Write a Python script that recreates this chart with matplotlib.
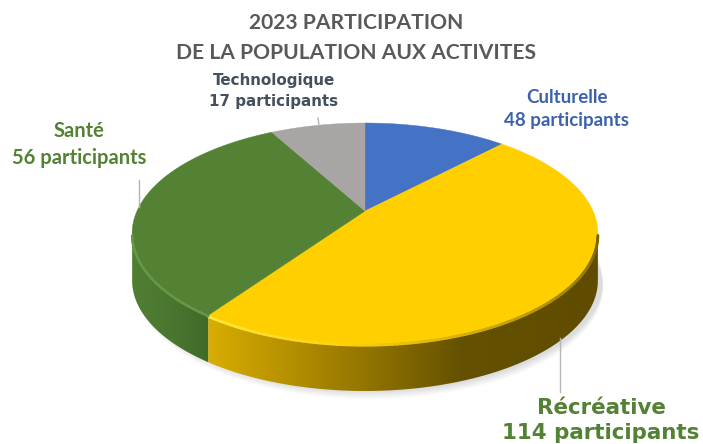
import numpy as np
import matplotlib
matplotlib.use("Agg")
import matplotlib.pyplot as plt
from matplotlib.colors import LinearSegmentedColormap, to_rgb
from matplotlib.collections import LineCollection
from matplotlib.patches import Polygon

# ── Données ──
title_lines = ["2023 PARTICIPATION", "DE LA POPULATION AUX ACTIVITES"]
categories = ["Culturelle", "Récréative", "Santé", "Technologique"]
participants = [48, 114, 56, 17]
# parts réellement dessinées (%), estimées sur l'image : elles ne suivent pas les effectifs
slice_shares = [12.1, 47.6, 32.3, 8.0]

face_colors = ["#4472c4", "#ffcf00", "#548235", "#a9a5a5"]
label_colors = ["#3c62ad", "#548235", "#548235", "#44505c"]

# ── Géométrie en pixels ──
W, H = 703, 444
CX, PY = 365, 211
R, RY, P = 228, 105.9, 0.2036
DEPTH = 47


def project(theta):
    """Angle horaire depuis le haut -> point du disque vu en perspective."""
    u, v = np.sin(theta), np.cos(theta)
    s = 1 / (1 + P * v)
    return CX + R * u * s, PY - RY * v * s


def edge(a, b, n=200):
    x, y = project(np.linspace(a, b, n))
    return np.column_stack([x, y])


fig = plt.figure(figsize=(W / 100, H / 100), dpi=100)
ax = fig.add_axes([0, 0, 1, 1])
ax.set_axis_off()

bounds = np.concatenate([[0], np.cumsum(slice_shares)]) / sum(slice_shares) * 2 * np.pi
full = edge(0, 2 * np.pi, 400)

# ombre douce sous le disque
for k in range(9):
    ax.add_patch(Polygon(full + [5, DEPTH + k], closed=True, fc="#808080",
                         ec="none", alpha=0.03, zorder=1))


def gradient_side(pts, stops, zorder=2):
    """Flanc du disque : dégradé horizontal découpé selon le polygone."""
    poly = np.vstack([pts, (pts + [0, DEPTH])[::-1]])
    x0, x1 = poly[:, 0].min(), poly[:, 0].max()
    y0, y1 = poly[:, 1].min(), poly[:, 1].max()
    cmap = LinearSegmentedColormap.from_list(
        "side", [((x - x0) / (x1 - x0), c) for x, c in stops])
    im = ax.imshow(np.linspace(0, 1, 256).reshape(1, -1), cmap=cmap, aspect="auto",
                   extent=(x0, x1, y1, y0), zorder=zorder)
    patch = Polygon(poly, closed=True, fc="none", ec="none", transform=ax.transData)
    ax.add_patch(patch)
    im.set_clip_path(patch)


# flancs visibles : Récréative et Santé
yellow_edge = edge(bounds[1], bounds[2])
green_edge = edge(bounds[2], bounds[3])
yellow_edge = yellow_edge[yellow_edge[:, 1] > 234]
green_edge = green_edge[green_edge[:, 1] > 234]
gradient_side(green_edge, [(green_edge[:, 0].min(), "#4f7f33"), (170, "#4a7730"),
                           (green_edge[:, 0].max(), "#3f6a28")])
gradient_side(yellow_edge[::-1], [(yellow_edge[:, 0].min(), "#d9ad00"), (300, "#b08c00"),
                                  (400, "#836800"), (460, "#655100"),
                                  (yellow_edge[:, 0].max(), "#5f4c00")])

# faces supérieures
for i, col in enumerate(face_colors):
    wedge = np.vstack([[CX, PY], edge(bounds[i], bounds[i + 1])])
    ax.add_patch(Polygon(wedge, closed=True, fc=col, ec=col, lw=0.3, zorder=3))


def bevel(pts, c_start, c_end, lw=3.0):
    """Liseré du bord, couleur interpolée le long de l'arc."""
    segs = np.stack([pts[:-1], pts[1:]], axis=1)
    t = np.linspace(0, 1, len(segs))[:, None]
    cols = (1 - t) * np.array(to_rgb(c_start)) + t * np.array(to_rgb(c_end))
    ax.add_collection(LineCollection(segs, colors=cols, linewidths=lw, zorder=4,
                                     capstyle="round"))


# les deux moitiés du liseré partagent quelques points pour éviter un trou
ordered = yellow_edge[::-1]
split = int(np.searchsorted(ordered[:, 0], 340))
bevel(ordered[:split + 2] + [0, 1.2], "#ffe83a", "#ffd20a", 2.0)
bevel(ordered[split:] + [0, 1.2], "#ffd20a", "#7a6200", 2.0)
bevel(green_edge + [0, 0.8], "#659846", "#659846", 1.8)

# traits de rappel
leaders = [((318, 118), (319, 125)), ((139, 180), (139, 207)), ((560, 338), (560, 392))]
for (x0, y0), (x1, y1) in leaders:
    ax.plot([x0, x1], [y0, y1], color="#b5b5b5", lw=1, zorder=5)

# ── Textes ──
for line, y in zip(title_lines, [23, 53]):
    ax.text(356, y, line, ha="center", va="center", fontsize=15.1, fontweight="bold",
            family="Lato", color="#595959")

label_style = {
    "Culturelle": dict(x=567, y0=97, y1=120, size=13.5, family="Lato"),
    "Récréative": dict(x=601, y0=408, y1=433, size=15.4, family="DejaVu Sans"),
    "Santé": dict(x=79, y0=131, y1=158, size=14.5, family="Lato"),
    "Technologique": dict(x=274, y0=81, y1=101, size=10.9, family="DejaVu Sans"),
}
for name, n, col in zip(categories, participants, label_colors):
    st = label_style[name]
    ax.text(st["x"], st["y0"], name, ha="center", va="center", fontsize=st["size"],
            fontweight="bold", family=st["family"], color=col)
    ax.text(st["x"], st["y1"], f"{n} participants", ha="center", va="center",
            fontsize=st["size"], fontweight="bold", family=st["family"], color=col)

ax.set_xlim(0, W)
ax.set_ylim(H, 0)
fig.savefig("out.png", dpi=100, facecolor="white")
